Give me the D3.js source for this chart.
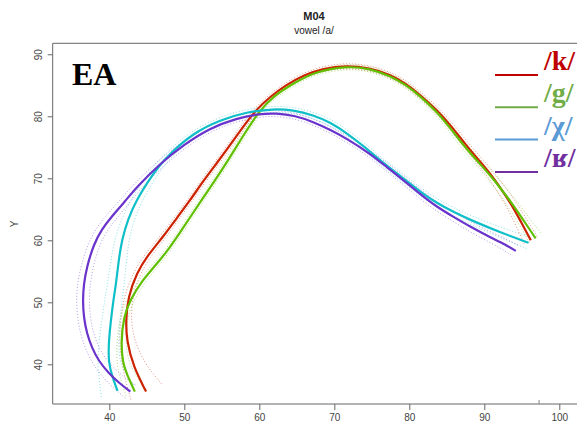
<!DOCTYPE html>
<html>
<head>
<meta charset="utf-8">
<script src="https://cdn.jsdelivr.net/npm/d3@7"></script>
<style>
  body { margin: 0; background: #fff; }
  svg { display: block; }
  .tick text { font-family: "Liberation Sans", Arial, sans-serif; font-size: 10px; fill: #444; }
  .tick line { stroke: #666; }
</style>
</head>
<body>
<div id="chart"></div>
<script>
// axis ticks
const xTicks = [40, 50, 60, 70, 80, 90, 100];
const yTicks = [40, 50, 60, 70, 80, 90];
const rugMarks = [97.3];

// smoothing spline fits, [x, y, ci half-width]
const kPoints = [
  [44.9, 35.6, 2.3], [43.2, 39.6, 1.5], [42.3, 43.9, 1.0], [42.2, 47.1, 0.7],
  [42.5, 50.9, 0.55], [43.65, 54.7, 0.45], [45.0, 57.4, 0.4], [47.2, 60.6, 0.35],
  [49.0, 63.6, 0.3], [50.8, 66.5, 0.3], [52.6, 69.7, 0.3], [54.3, 72.4, 0.3],
  [56.2, 75.5, 0.3], [58.0, 78.6, 0.3], [59.6, 81.1, 0.3], [61.5, 83.2, 0.3],
  [63.5, 85.0, 0.3], [66.0, 86.7, 0.3], [68.5, 87.7, 0.3], [71.6, 88.2, 0.35],
  [74.7, 87.8, 0.35], [77.5, 86.7, 0.35], [79.5, 85.3, 0.35], [81.5, 83.4, 0.35],
  [83.7, 81.0, 0.35], [85.6, 78.4, 0.4], [87.4, 75.6, 0.4], [89.2, 73.0, 0.45],
  [90.9, 70.6, 0.5], [92.4, 68.0, 0.6], [93.5, 66.0, 0.7], [94.8, 63.2, 0.8],
  [96.2, 60.0, 1.0]
];
const gPoints = [
  [43.4, 35.6, 1.3], [42.3, 38.5, 1.0], [41.8, 40.2, 0.8], [41.55, 43.4, 0.6],
  [41.9, 47.7, 0.5], [42.8, 50.4, 0.45], [44.3, 53.4, 0.4], [46.2, 56.0, 0.35],
  [48.0, 58.7, 0.3], [49.4, 61.2, 0.3], [50.6, 63.4, 0.3], [52.2, 66.3, 0.3],
  [54.0, 69.5, 0.3], [55.9, 73.0, 0.3], [57.8, 76.8, 0.3], [59.9, 80.7, 0.3],
  [61.8, 83.2, 0.3], [64.8, 85.5, 0.3], [67.5, 87.2, 0.3], [71.6, 88.1, 0.35],
  [74.7, 87.7, 0.35], [77.5, 86.5, 0.35], [79.5, 85.1, 0.35], [81.5, 83.2, 0.35],
  [83.7, 80.7, 0.35], [85.4, 78.2, 0.4], [87.1, 75.5, 0.4], [88.9, 73.0, 0.45],
  [90.7, 70.6, 0.5], [92.3, 68.2, 0.6], [93.8, 65.8, 0.7], [95.4, 62.9, 0.8],
  [96.85, 60.3, 1.0]
];
const chiPoints = [
  [41.1, 35.7, 2.3], [40.4, 38.0, 1.8], [39.9, 40.2, 1.5], [39.9, 43.4, 1.3],
  [40.2, 47.0, 1.2], [40.5, 50.0, 1.15], [40.9, 53.0, 1.1], [41.2, 56.3, 1.05],
  [41.65, 60.0, 0.95], [42.5, 63.5, 0.8], [43.65, 66.5, 0.7], [45.0, 69.2, 0.6],
  [46.5, 71.8, 0.5], [48.1, 74.0, 0.45], [51.2, 77.3, 0.4], [54.8, 79.4, 0.4],
  [58.3, 80.7, 0.4], [61.9, 81.2, 0.4], [64.5, 81.0, 0.4], [67.2, 80.2, 0.4],
  [69.5, 79.0, 0.4], [71.65, 77.3, 0.4], [74.0, 75.1, 0.4], [76.1, 72.9, 0.4],
  [79.2, 70.0, 0.45], [81.5, 67.8, 0.45], [83.65, 66.0, 0.5], [86.0, 64.5, 0.5],
  [88.1, 63.3, 0.55], [92.5, 61.1, 0.65], [95.9, 59.6, 0.8]
];
const rPoints = [
  [42.8, 35.6, 1.1], [41.3, 37.0, 1.0], [39.9, 38.6, 0.95], [38.6, 40.5, 0.9],
  [37.7, 42.6, 0.85], [37.0, 45.0, 0.85], [36.6, 47.5, 0.85], [36.45, 50.3, 0.85],
  [36.6, 53.0, 0.85], [37.0, 55.7, 0.8], [37.9, 59.3, 0.75], [39.0, 61.8, 0.7],
  [40.3, 63.8, 0.65], [41.9, 66.0, 0.6], [43.65, 68.6, 0.55], [46.8, 72.4, 0.5],
  [49.9, 75.4, 0.45], [53.4, 78.1, 0.4], [57.0, 79.7, 0.4], [60.1, 80.4, 0.4],
  [62.2, 80.5, 0.4], [64.8, 80.1, 0.4], [67.2, 79.1, 0.4], [69.5, 77.8, 0.4],
  [71.65, 76.4, 0.4], [74.75, 74.0, 0.4], [77.0, 71.8, 0.45], [79.2, 69.7, 0.45],
  [81.5, 67.4, 0.5], [83.65, 65.4, 0.5], [86.0, 63.7, 0.55], [88.1, 62.2, 0.6],
  [90.3, 60.8, 0.65], [92.5, 59.5, 0.7], [94.2, 58.3, 0.8]
];

const labels = ["/k/", "/g/", "/χ/", "/ʁ/"];
const lineColors = ["#cc2200", "#5fbf00", "#0fbfc8", "#6a33cc"];
const legendColors = ["#c00000", "#70ad47", "#5b9bd5", "#7030a0"];

const series = [kPoints, gPoints, chiPoints, rPoints].map((pts, i) => ({
  label: labels[i], color: lineColors[i], legendColor: legendColors[i], points: pts
}));

const width = 577;
const height = 424;

const svg = d3.select("#chart")
  .append("svg")
  .attr("width", width)
  .attr("height", height);

const x = d3.scaleLinear().domain([32.45, 110]).range([52.7, 634.3]);
const y = d3.scaleLinear().domain([33.6, 91.77]).range([404, 43.3]);

// titles
svg.append("text")
  .attr("x", 314).attr("y", 20)
  .attr("text-anchor", "middle")
  .style("font-family", "Liberation Sans, Arial, sans-serif")
  .style("font-size", "11px").style("font-weight", "bold")
  .attr("fill", "#222")
  .text("M04");
svg.append("text")
  .attr("x", 314).attr("y", 34)
  .attr("text-anchor", "middle")
  .style("font-family", "Liberation Sans, Arial, sans-serif")
  .style("font-size", "10px")
  .attr("fill", "#222")
  .text("vowel /a/");
svg.append("text")
  .attr("transform", "translate(18,224) rotate(-90)")
  .attr("text-anchor", "middle")
  .style("font-family", "Liberation Sans, Arial, sans-serif")
  .style("font-size", "10px")
  .attr("fill", "#444")
  .text("Y");

// axes
const xAxis = svg.append("g")
  .attr("transform", `translate(0,${y.range()[0]})`)
  .call(d3.axisBottom(x).tickValues(xTicks).tickSize(6).tickSizeOuter(0));
xAxis.select(".domain").remove();
xAxis.selectAll("text").attr("y", 17).attr("dy", 0);

const yAxis = svg.append("g")
  .attr("transform", `translate(${x.range()[0]},0)`)
  .call(d3.axisLeft(y).tickValues(yTicks).tickSize(5).tickSizeOuter(0));
yAxis.select(".domain").remove();
yAxis.selectAll("text")
  .attr("x", null).attr("dy", null)
  .attr("text-anchor", "middle")
  .attr("transform", "translate(-11,0) rotate(-90)");

// plot frame
svg.append("path")
  .attr("d", `M${width + 5},${y.range()[1]}H${x.range()[0]}V${y.range()[0]}H${width + 5}`)
  .attr("fill", "none")
  .attr("stroke", "#666")
  .attr("stroke-width", 1);

svg.append("g").selectAll("line")
  .data(rugMarks)
  .join("line")
  .attr("x1", d => x(d)).attr("x2", d => x(d))
  .attr("y1", y.range()[0] - 4).attr("y2", y.range()[0])
  .attr("stroke", "#888");

// curves
const line = d3.line().curve(d3.curveBasis);
const pxPerUnit = x(1) - x(0);

function bands(pts) {
  const p = pts.map(d => [x(d[0]), y(d[1])]);
  const upper = [], lower = [];
  p.forEach((pt, i) => {
    const a = p[Math.max(0, i - 1)];
    const b = p[Math.min(p.length - 1, i + 1)];
    const tx = b[0] - a[0], ty = b[1] - a[1];
    const len = Math.hypot(tx, ty);
    const nx = ty / len, ny = -tx / len;
    const w = pts[i][2] * pxPerUnit;
    upper.push([pt[0] + nx * w, pt[1] + ny * w]);
    lower.push([pt[0] - nx * w, pt[1] - ny * w]);
  });
  return { main: p, upper, lower };
}

const curves = svg.append("g");
series.forEach(s => {
  const b = bands(s.points);
  [b.upper, b.lower].forEach(c => {
    curves.append("path")
      .attr("d", line(c))
      .attr("fill", "none")
      .attr("stroke", s.color)
      .attr("stroke-opacity", 0.5)
      .attr("stroke-width", 1)
      .attr("stroke-dasharray", "1,2");
  });
});
series.forEach(s => {
  const b = bands(s.points);
  curves.append("path")
    .attr("d", line(b.main))
    .attr("fill", "none")
    .attr("stroke", s.color)
    .attr("stroke-width", 2.2);
});

// panel label
svg.append("text")
  .attr("x", 72).attr("y", 85)
  .style("font-family", "Liberation Serif, Times New Roman, serif")
  .style("font-size", "32px").style("font-weight", "bold")
  .attr("fill", "#000")
  .text("EA");

// legend
const legend = svg.append("g")
  .selectAll("g")
  .data(series)
  .join("g")
  .attr("transform", (d, i) => `translate(495,${75 + i * 32.3})`);
legend.append("line")
  .attr("x1", 0).attr("x2", 43)
  .attr("stroke", d => d.legendColor)
  .attr("stroke-width", 2);
legend.append("text")
  .attr("x", 49).attr("y", -5)
  .style("font-family", "Liberation Serif, DejaVu Serif, serif")
  .style("font-size", "28px").style("font-weight", "bold")
  .attr("fill", d => d.legendColor)
  .text(d => d.label);
</script>
</body>
</html>
